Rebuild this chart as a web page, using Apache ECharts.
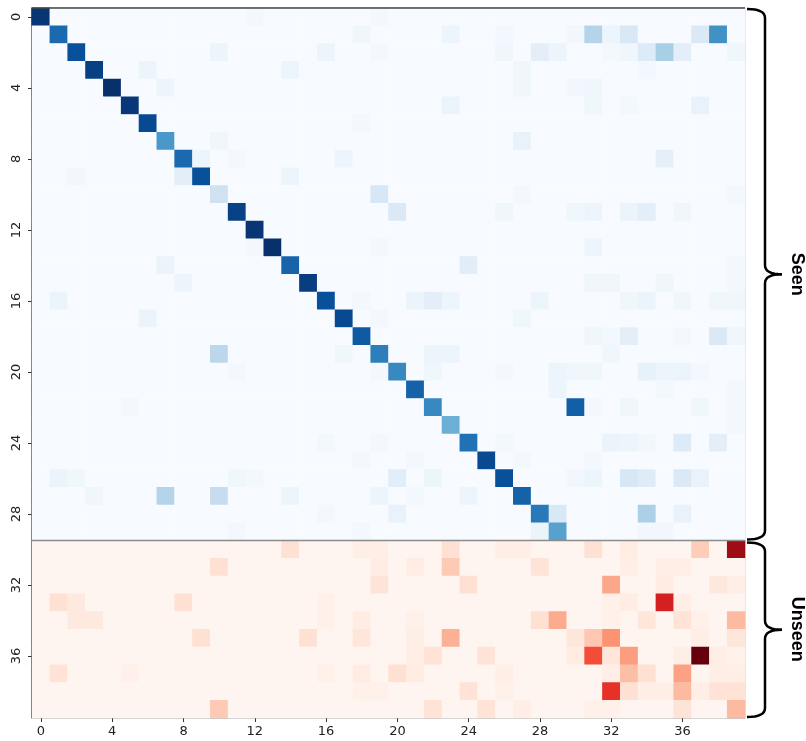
<!DOCTYPE html>
<html>
<head>
<meta charset="utf-8">
<title>Seen / Unseen confusion matrix</title>
<script src="https://cdn.jsdelivr.net/npm/echarts@6/dist/echarts.min.js"></script>
<style>
  html, body { margin: 0; padding: 0; background: #fff; }
  #main { width: 806px; height: 741px; }
</style>
</head>
<body>
<div id="main"></div>
<script>
// class ids on both axes
const classIds = ['0','1','2','3','4','5','6','7','8','9','10','11','12','13','14','15','16','17','18','19',
                  '20','21','22','23','24','25','26','27','28','29','30','31','32','33','34','35','36','37','38','39'];
const seenCount = 30;

// seen classes (rows 0-29): diagonal rate
const seenDiag = [0.98, 0.78, 0.88, 0.94, 1.0, 0.97, 0.9, 0.6, 0.78, 0.88,
                  0.2, 0.93, 0.98, 1.0, 0.8, 0.95, 0.88, 0.9, 0.84, 0.7,
                  0.66, 0.81, 0.66, 0.5, 0.75, 0.9, 0.88, 0.81, 0.72, 0.56];

// seen classes: off-diagonal [col, row, rate]
const seenOff = [
  [12,0,0.02],[19,0,0.02],
  [18,1,0.04],[23,1,0.05],[26,1,0.02],[30,1,0.03],[31,1,0.3],[32,1,0.05],[33,1,0.15],[37,1,0.14],[38,1,0.63],
  [10,2,0.05],[16,2,0.05],[19,2,0.02],[26,2,0.04],[28,2,0.1],[29,2,0.05],[32,2,0.02],[33,2,0.04],[34,2,0.13],[35,2,0.34],[36,2,0.1],[39,2,0.04],
  [6,3,0.05],[14,3,0.05],[27,3,0.04],[34,3,0.02],
  [7,4,0.05],[27,4,0.04],[30,4,0.03],[31,4,0.04],
  [23,5,0.06],[31,5,0.04],[33,5,0.02],[37,5,0.07],
  [18,6,0.02],
  [10,7,0.04],[27,7,0.07],
  [9,8,0.05],[11,8,0.02],[17,8,0.05],[35,8,0.09],
  [2,9,0.03],[8,9,0.1],[14,9,0.05],
  [19,10,0.16],[27,10,0.02],[39,10,0.02],
  [20,11,0.14],[26,11,0.04],[30,11,0.04],[31,11,0.05],[33,11,0.06],[34,11,0.1],[36,11,0.04],
  [12,13,0.02],[19,13,0.02],[31,13,0.05],
  [7,14,0.06],[24,14,0.11],[39,14,0.02],
  [8,15,0.05],[31,15,0.04],[32,15,0.04],[35,15,0.04],[39,15,0.02],
  [1,16,0.06],[18,16,0.02],[21,16,0.06],[22,16,0.1],[23,16,0.05],[28,16,0.05],[33,16,0.04],[34,16,0.06],[36,16,0.04],[38,16,0.04],[39,16,0.04],
  [6,17,0.06],[19,17,0.02],[27,17,0.04],
  [31,18,0.04],[32,18,0.02],[33,18,0.1],[36,18,0.02],[38,18,0.14],[39,18,0.04],
  [10,19,0.28],[17,19,0.04],[22,19,0.05],[23,19,0.05],[32,19,0.04],
  [11,20,0.02],[19,20,0.02],[22,20,0.04],[26,20,0.02],[29,20,0.05],[30,20,0.04],[31,20,0.04],[34,20,0.08],[35,20,0.05],[36,20,0.06],[37,20,0.02],
  [29,21,0.05],[35,21,0.02],[39,21,0.02],
  [5,22,0.02],[30,22,0.82],[31,22,0.02],[33,22,0.04],[37,22,0.04],[39,22,0.02],
  [39,23,0.02],
  [16,24,0.02],[19,24,0.02],[26,24,0.02],[32,24,0.06],[33,24,0.05],[34,24,0.03],[36,24,0.13],[38,24,0.1],
  [18,25,0.02],[21,25,0.02],[27,25,0.02],[31,25,0.02],
  [1,26,0.06],[2,26,0.04],[11,26,0.04],[12,26,0.02],[20,26,0.11],[22,26,0.05],[30,26,0.03],[31,26,0.05],[33,26,0.16],[34,26,0.12],[36,26,0.14],[37,26,0.07],
  [3,27,0.04],[7,27,0.3],[10,27,0.24],[14,27,0.05],[19,27,0.05],[21,27,0.02],[24,27,0.05],
  [16,28,0.02],[20,28,0.07],[29,28,0.15],[34,28,0.33],[36,28,0.07],
  [11,29,0.02],[18,29,0.02],[28,29,0.06],[34,29,0.03],[35,29,0.03]
];

// unseen classes (rows 30-39): [col, row, rate]
const unseenCells = [
  [14,30,0.12],[18,30,0.04],[19,30,0.04],[23,30,0.12],[26,30,0.04],[27,30,0.04],[31,30,0.12],[33,30,0.05],[37,30,0.19],[39,30,0.89],
  [10,31,0.12],[19,31,0.05],[21,31,0.05],[23,31,0.2],[28,31,0.11],[33,31,0.04],[35,31,0.04],[36,31,0.04],
  [19,32,0.1],[24,32,0.12],[32,32,0.31],[35,32,0.06],[38,32,0.08],[39,32,0.04],
  [1,33,0.12],[2,33,0.07],[8,33,0.12],[16,33,0.03],[32,33,0.03],[33,33,0.05],[35,33,0.72],[36,33,0.04],
  [2,34,0.07],[3,34,0.07],[16,34,0.03],[18,34,0.05],[21,34,0.03],[28,34,0.12],[29,34,0.3],[32,34,0.03],[34,34,0.09],[36,34,0.11],[37,34,0.03],[39,34,0.25],
  [9,35,0.12],[15,35,0.12],[18,35,0.09],[21,35,0.04],[23,35,0.28],[30,35,0.09],[31,35,0.21],[32,35,0.37],[37,35,0.04],[39,35,0.09],
  [21,36,0.04],[22,36,0.11],[25,36,0.11],[30,36,0.06],[31,36,0.58],[32,36,0.09],[33,36,0.34],[36,36,0.04],[37,36,1.0],[38,36,0.04],[39,36,0.02],
  [1,37,0.11],[5,37,0.03],[16,37,0.03],[18,37,0.06],[20,37,0.12],[21,37,0.05],[26,37,0.04],[32,37,0.04],[33,37,0.24],[34,37,0.12],[36,37,0.33],[38,37,0.04],[39,37,0.04],
  [18,38,0.03],[19,38,0.03],[24,38,0.11],[26,38,0.03],[32,38,0.66],[33,38,0.12],[34,38,0.04],[35,38,0.04],[36,38,0.25],[37,38,0.04],[38,38,0.11],[39,38,0.11],
  [10,39,0.2],[22,39,0.11],[25,39,0.11],[27,39,0.04],[31,39,0.03],[32,39,0.03],[36,39,0.1],[39,39,0.25]
];

const groupNames = ['Seen', 'Unseen'];

const BLUES = ['#f7fbff','#deebf7','#c6dbef','#9ecae1','#6baed6','#4292c6','#2171b5','#08519c','#08306b'];
const REDS  = ['#fff5f0','#fee0d2','#fcbba1','#fc9272','#fb6a4a','#ef3b2c','#cb181d','#a50f15','#67000d'];

// build full rows (cells not listed are 0)
function buildRows(rowFrom, rowTo, cells, diag) {
  const lookup = {};
  cells.forEach(d => { lookup[d[0] + '_' + d[1]] = d[2]; });
  const out = [];
  for (let r = rowFrom; r < rowTo; r++) {
    for (let c = 0; c < classIds.length; c++) {
      let v = lookup[c + '_' + r] || 0;
      if (diag && c === r) v = diag[r];
      out.push([c, r, v]);
    }
  }
  return out;
}

const seenData = buildRows(0, seenCount, seenOff, seenDiag);
const unseenData = buildRows(seenCount, classIds.length, unseenCells, null);

// layout
const G = { left: 32, top: 8, width: 713, height: 710 };
const cellH = G.height / classIds.length;
const sepY = G.top + seenCount * cellH;
const rightX = G.left + G.width;

// points along a quadratic curve
function quad(p0, p1, p2, pts) {
  for (let i = 1; i <= 8; i++) {
    const t = i / 8, u = 1 - t;
    pts.push([u * u * p0[0] + 2 * u * t * p1[0] + t * t * p2[0],
              u * u * p0[1] + 2 * u * t * p1[1] + t * t * p2[1]]);
  }
}

// curly brace on the right side, as two polylines
function brace(x0, yTop, yBot, w, tip) {
  const r = 9;
  const x1 = x0 + w;
  const ym = (yTop + yBot) / 2;
  const upper = [[x0, yTop]];
  quad([x0, yTop], [x1, yTop], [x1, yTop + r], upper);
  upper.push([x1, ym - r]);
  quad([x1, ym - r], [x1, ym], [x1 + tip, ym], upper);
  const lower = [[x1 + tip, ym]];
  quad([x1 + tip, ym], [x1, ym], [x1, ym + r], lower);
  lower.push([x1, yBot - r]);
  quad([x1, yBot - r], [x1, yBot], [x0, yBot], lower);
  const st = { stroke: '#000', lineWidth: 2.5, fill: null };
  return [
    { type: 'polyline', z: 100, shape: { points: upper }, style: st },
    { type: 'polyline', z: 100, shape: { points: lower }, style: st }
  ];
}

let myChart = echarts.init(document.getElementById('main'), null, { renderer: 'canvas' });

let option = {
  backgroundColor: '#ffffff',
  animation: false,
  grid: {
    left: G.left, top: G.top, width: G.width, height: G.height,
    show: true, borderColor: '#c8c8c8', borderWidth: 1
  },
  xAxis: {
    type: 'category',
    data: classIds,
    position: 'bottom',
    axisLine: { show: true, lineStyle: { color: '#c8c8c8', width: 1 } },
    axisTick: { show: true, alignWithLabel: true, interval: 3, length: 4, lineStyle: { color: '#333', width: 1 } },
    axisLabel: { interval: 3, margin: 7, color: '#222', fontSize: 13, fontFamily: 'DejaVu Sans' },
    splitLine: { show: false },
    splitArea: { show: false }
  },
  yAxis: {
    type: 'category',
    data: classIds,
    inverse: true,
    axisLine: { show: true, lineStyle: { color: '#333', width: 1.5 } },
    axisTick: { show: true, alignWithLabel: true, interval: 3, length: 4, lineStyle: { color: '#333', width: 1 } },
    axisLabel: { interval: 3, rotate: 90, margin: 9, color: '#222', fontSize: 13, fontFamily: 'DejaVu Sans' },
    splitLine: { show: false },
    splitArea: { show: false }
  },
  visualMap: [
    { type: 'continuous', show: false, seriesIndex: 0, min: 0, max: 1, inRange: { color: BLUES } },
    { type: 'continuous', show: false, seriesIndex: 1, min: 0, max: 1, inRange: { color: REDS } }
  ],
  series: [
    { name: groupNames[0], type: 'heatmap', data: seenData, emphasis: { disabled: true }, progressive: 0 },
    { name: groupNames[1], type: 'heatmap', data: unseenData, emphasis: { disabled: true }, progressive: 0 }
  ],
  graphic: [
    // dark top border
    { type: 'line', z: 100, shape: { x1: G.left, y1: G.top, x2: rightX, y2: G.top },
      style: { stroke: '#444', lineWidth: 1.5 } },
    // separator between seen and unseen rows
    { type: 'line', z: 100, shape: { x1: G.left, y1: sepY, x2: rightX, y2: sepY },
      style: { stroke: '#8c8c8c', lineWidth: 1.5 } },
    { type: 'text', z: 100, x: 797, y: (G.top + sepY) / 2, rotation: -Math.PI / 2,
      style: { text: groupNames[0], font: 'bold 18px "Liberation Sans", Arial, sans-serif', fill: '#000',
               textAlign: 'center', textVerticalAlign: 'middle' } },
    { type: 'text', z: 100, x: 797, y: (sepY + G.top + G.height) / 2, rotation: -Math.PI / 2,
      style: { text: groupNames[1], font: 'bold 18px "Liberation Sans", Arial, sans-serif', fill: '#000',
               textAlign: 'center', textVerticalAlign: 'middle' } }
  ].concat(brace(rightX + 2, G.top + 1, sepY - 1, 18, 17))
   .concat(brace(rightX + 2, sepY + 2, G.top + G.height - 1, 18, 17))
};

myChart.setOption(option);
</script>
</body>
</html>
